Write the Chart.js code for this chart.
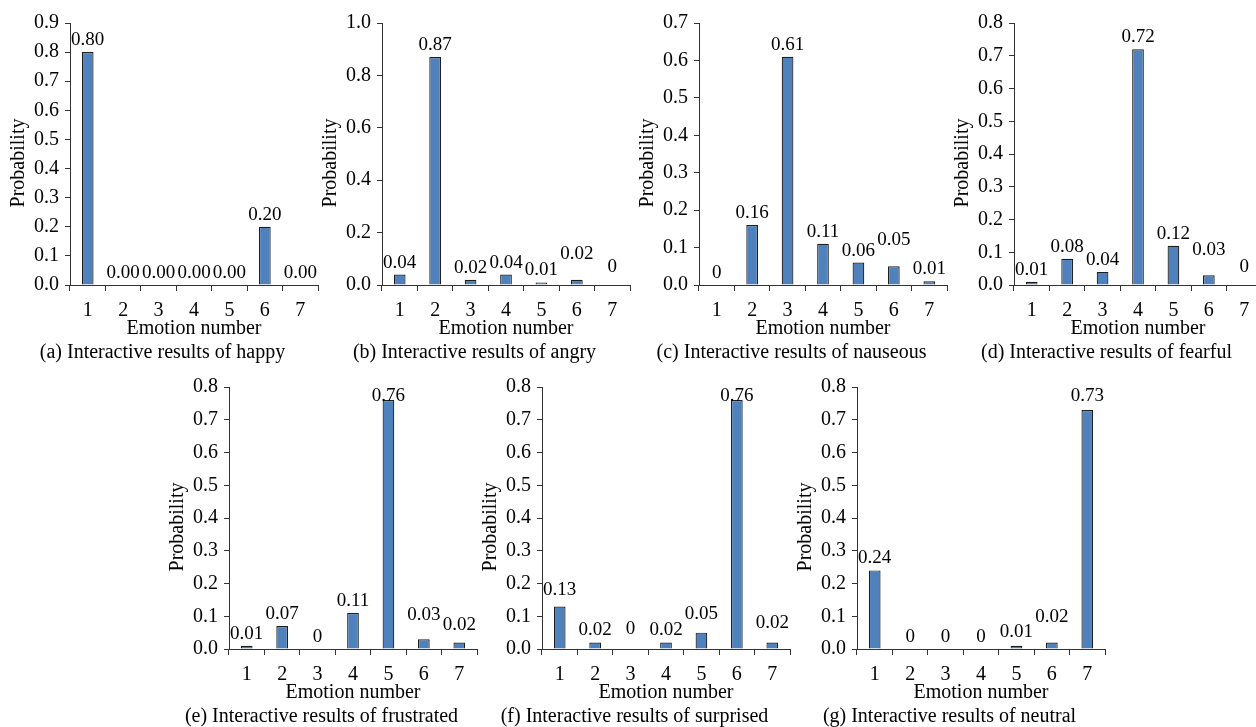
<!DOCTYPE html>
<html>
<head>
<meta charset="utf-8">
<script src="https://cdn.jsdelivr.net/npm/chart.js@4/dist/chart.umd.min.js"></script>
<style>
  html, body { margin: 0; padding: 0; background: #fff; overflow: hidden; }
  #wrap { position: relative; width: 1256px; height: 727px; overflow: hidden; }
  #wrap canvas { position: absolute; }
</style>
</head>
<body>
<div id="wrap"></div>
<script>
// ================= DATA =================
const emotions = ["1", "2", "3", "4", "5", "6", "7"];

const happy      = [0.80, 0.00, 0.00, 0.00, 0.00, 0.20, 0.00];
const angry      = [0.04, 0.87, 0.02, 0.04, 0.01, 0.02, 0];
const nauseous   = [0, 0.16, 0.61, 0.11, 0.06, 0.05, 0.01];
const fearful    = [0.01, 0.08, 0.04, 0.72, 0.12, 0.03, 0];
const frustrated = [0.01, 0.07, 0, 0.11, 0.76, 0.03, 0.02];
const surprised  = [0.13, 0.02, 0, 0.02, 0.05, 0.76, 0.02];
const neutral    = [0.24, 0, 0, 0, 0.01, 0.02, 0.73];

const captions = [
  "(a) Interactive results of happy",
  "(b) Interactive results of angry",
  "(c) Interactive results of nauseous",
  "(d) Interactive results of fearful",
  "(e) Interactive results of frustrated",
  "(f) Interactive results of surprised",
  "(g) Interactive results of neutral"
];

const yMax  = [0.9, 1.0, 0.7, 0.8, 0.8, 0.8, 0.8];
const yStep = [0.1, 0.2, 0.1, 0.1, 0.1, 0.1, 0.1];

// ================= LAYOUT =================
// axis origin per panel + extra lift (px) for labels that would collide
const panels = [
  { data: happy,      zero: "0.00", left: 70,   top: 21,  bottom: 285, lift: [0, 0, 0, 0, 0, 0, 0] },
  { data: angry,      zero: "0",    left: 382,  top: 21,  bottom: 285, lift: [0, 0, 0, 0, 0, 14, 6] },
  { data: nauseous,   zero: "0",    left: 699,  top: 21,  bottom: 285, lift: [0, 0, 0, 0, 0, 14, 0] },
  { data: fearful,    zero: "0",    left: 1014, top: 21,  bottom: 285, lift: [0, 0, 0, 0, 0, 13, 6] },
  { data: frustrated, zero: "0",    left: 229,  top: 385, bottom: 649, lift: [0, 0, 0, 0, 0, 12, 5] },
  { data: surprised,  zero: "0",    left: 542,  top: 385, bottom: 649, lift: [4, 0, 8, 0, 7, 0, 7] },
  { data: neutral,    zero: "0",    left: 857,  top: 385, bottom: 649, lift: [0, 0, 0, 0, 2, 13, 8] }
];

const PLOT_W = 248;
const Y_W = 63;      // y title + tick labels
const PAD_TOP = 16;
const X_H = 56;      // ticks + tick labels + x title
const CAP_H = 24;    // caption line
const PAD_R = 4;

const FONT = "'Liberation Serif', 'Times New Roman', serif";
const AXIS = "#333";

// value labels above bars + rotated y title (sits a bit below centre)
const panelText = {
  id: "panelText",
  afterDatasetsDraw(chart, args, opts) {
    const { ctx, chartArea } = chart;
    const meta = chart.getDatasetMeta(0);
    const values = chart.data.datasets[0].data;
    ctx.save();
    ctx.font = "19px " + FONT;
    ctx.fillStyle = "#000";
    ctx.textAlign = "center";
    ctx.textBaseline = "middle";
    meta.data.forEach((bar, i) => {
      const v = values[i];
      const txt = v === 0 ? opts.zero : v.toFixed(2);
      const y = Math.max(bar.y - 12 - opts.lift[i], chartArea.top + 9);
      ctx.fillText(txt, bar.x, y);
    });

    ctx.font = "20px " + FONT;
    ctx.translate(chartArea.left - 51, (chartArea.top + chartArea.bottom) / 2 + 9);
    ctx.rotate(-Math.PI / 2);
    ctx.fillText("Probability", 0, 0);
    ctx.restore();
  }
};

// ================= CHARTS =================
const wrap = document.getElementById("wrap");

panels.forEach((p, k) => {
  const canvas = document.createElement("canvas");
  const w = Y_W + PLOT_W + PAD_R;
  const h = PAD_TOP + (p.bottom - p.top) + X_H + CAP_H;
  canvas.width = w;
  canvas.height = h;
  canvas.style.left = (p.left - Y_W) + "px";
  canvas.style.top = (p.top - PAD_TOP) + "px";
  canvas.style.width = w + "px";
  canvas.style.height = h + "px";
  wrap.appendChild(canvas);

  new Chart(canvas, {
    type: "bar",
    data: {
      labels: emotions,
      datasets: [{
        data: p.data,
        backgroundColor: "#4f81bd",
        borderColor: "#1e1e1e",
        borderWidth: 1.2,
        categoryPercentage: 1,
        barPercentage: 0.33
      }]
    },
    options: {
      responsive: false,
      animation: false,
      devicePixelRatio: 1,
      layout: { padding: { top: PAD_TOP, right: PAD_R, bottom: 0, left: 0 } },
      plugins: {
        legend: { display: false },
        tooltip: { enabled: false },
        title: {
          display: true,
          position: "bottom",
          text: captions[k],
          color: "#000",
          font: { family: FONT, size: 20, weight: "normal" },
          padding: 0
        },
        panelText: { zero: p.zero, lift: p.lift }
      },
      scales: {
        x: {
          offset: true,
          grid: {
            offset: true,
            drawOnChartArea: false,
            drawTicks: true,
            tickLength: 6,
            color: AXIS
          },
          border: { display: true, color: AXIS, width: 1 },
          ticks: {
            color: "#000",
            padding: 8,
            maxRotation: 0,
            font: { family: FONT, size: 20 }
          },
          title: {
            display: true,
            text: "Emotion number",
            color: "#000",
            padding: 0,
            font: { family: FONT, size: 20 }
          },
          afterFit(scale) { scale.height = X_H; }
        },
        y: {
          min: 0,
          max: yMax[k],
          grid: {
            drawOnChartArea: false,
            drawTicks: true,
            tickLength: 5,
            color: AXIS
          },
          border: { display: true, color: AXIS, width: 1 },
          ticks: {
            stepSize: yStep[k],
            color: "#000",
            padding: 6,
            font: { family: FONT, size: 20 },
            callback: v => v.toFixed(1)
          },
          afterFit(scale) { scale.width = Y_W; }
        }
      }
    },
    plugins: [panelText]
  });
});
</script>
</body>
</html>
